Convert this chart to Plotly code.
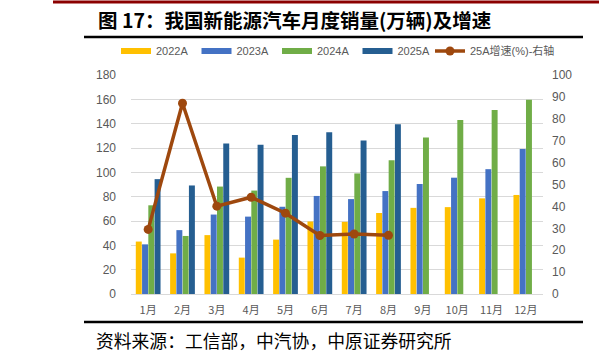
import plotly.graph_objects as go

months = ["1月", "2月", "3月", "4月", "5月", "6月", "7月", "8月", "9月", "10月", "11月", "12月"]
s2022 = [43.1, 33.4, 48.4, 29.9, 44.7, 59.6, 59.3, 66.6, 70.8, 71.4, 78.6, 81.4]
s2023 = [40.8, 52.5, 65.3, 63.6, 71.7, 80.6, 78.0, 84.6, 90.4, 95.6, 102.6, 119.1]
s2024 = [72.9, 47.7, 88.3, 85.0, 95.5, 104.9, 99.1, 110.0, 128.7, 143.0, 151.2, 159.6]
s2025 = [94.4, 89.2, 123.7, 122.6, 130.7, 132.9, 126.2, 139.5]
growth25 = [29.5, 87.1, 40.1, 44.2, 36.9, 26.7, 27.4, 26.8]

bar_names = ["2022A", "2023A", "2024A", "2025A"]
bar_series = [s2022, s2023, s2024, s2025]
bar_colors = ["#FFC000", "#4472C4", "#70AD47", "#255E91"]
line_name = "25A增速(%)-右轴"
line_color = "#9E480E"

W, H = 599, 358
L, R, T, B = 131, 56, 75, 64

def px(x):
    return (x - L) / (W - L - R)

def py(y):
    return (H - B - y) / (H - T - B)

fig = go.Figure()
for name, vals, col in zip(bar_names, bar_series, bar_colors):
    fig.add_trace(go.Bar(x=months[:len(vals)], y=vals, name=name, marker_color=col,
                         marker_line_width=0, showlegend=False))
    fig.add_trace(go.Scatter(x=[None], y=[None], mode="lines", name=name,
                             line=dict(color=col, width=6)))

fig.add_trace(go.Scatter(x=months[:len(growth25)], y=growth25, name=line_name, yaxis="y2",
                         mode="lines+markers", line=dict(color=line_color, width=3.5),
                         marker=dict(size=9, color=line_color), legend="legend2"))

legend_font = dict(size=11, color="#595959", family="Liberation Sans, Noto Sans CJK SC")
fig.update_layout(
    width=W, height=H,
    margin=dict(l=L, r=R, t=T, b=B),
    plot_bgcolor="white", paper_bgcolor="white",
    barmode="group", bargap=0.27, bargroupgap=0.05,
    font=dict(family="Liberation Sans, Arial", size=11, color="#595959"),
    xaxis=dict(categoryorder="array", categoryarray=months, range=[-0.5, 11.5],
               showline=True, linecolor="#D9D9D9", linewidth=1, ticks="",
               ticklabelstandoff=6, tickfont=dict(size=11, color="#595959",
               family="Noto Sans CJK SC")),
    yaxis=dict(range=[0, 180], dtick=20, showgrid=True, gridcolor="#D9D9D9", gridwidth=1,
               zeroline=False, ticks="", ticklabelstandoff=14,
               tickfont=dict(size=12, color="#595959")),
    yaxis2=dict(range=[0, 100], dtick=10, overlaying="y", side="right", showgrid=False,
                zeroline=False, ticks="", ticklabelstandoff=8,
                tickfont=dict(size=12, color="#595959")),
    legend=dict(orientation="h", x=px(116), y=py(51), xanchor="left", yanchor="middle",
                font=legend_font, entrywidth=35.5, entrywidthmode="pixels",
                bgcolor="rgba(0,0,0,0)", itemclick=False),
    legend2=dict(orientation="h", x=px(430), y=py(51), xanchor="left", yanchor="middle",
                 font=legend_font, bgcolor="rgba(0,0,0,0)", itemclick=False),
    showlegend=True,
)

shapes = [
    dict(type="line", xref="paper", yref="paper", x0=px(53), x1=px(599), y0=py(2), y1=py(2),
         line=dict(color="#8B0000", width=3)),
    dict(type="line", xref="paper", yref="paper", x0=px(84), x1=px(583), y0=py(37), y1=py(37),
         line=dict(color="#000000", width=2.5)),
    dict(type="line", xref="paper", yref="paper", x0=px(84), x1=px(583), y0=py(322), y1=py(322),
         line=dict(color="#000000", width=2.5)),
]
fig.update_layout(shapes=shapes)

fig.add_annotation(text="<b>图 17：我国新能源汽车月度销量(万辆)及增速</b>", xref="paper", yref="paper",
                   x=px(96), y=py(20), xanchor="left", yanchor="middle", showarrow=False,
                   font=dict(family="Noto Sans CJK SC", size=19.5, color="#000000"))
fig.add_annotation(text="资料来源：工信部，中汽协，中原证券研究所", xref="paper", yref="paper",
                   x=px(94), y=py(340), xanchor="left", yanchor="middle", showarrow=False,
                   font=dict(family="Noto Sans CJK SC", size=17.8, color="#000000"))

fig.write_html("out.html", config={"displayModeBar": False},
               post_script="document.body.style.margin='0';")
